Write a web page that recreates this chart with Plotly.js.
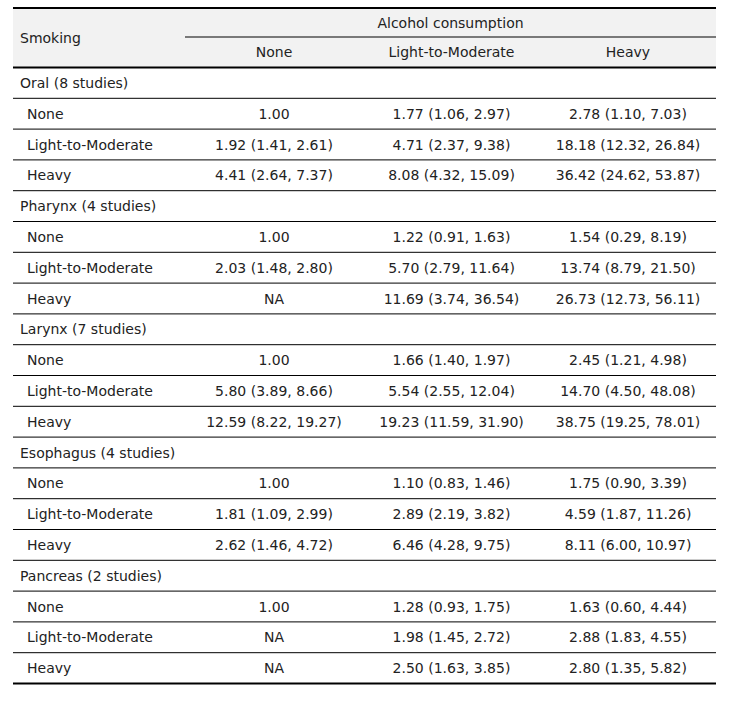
<!DOCTYPE html>
<html>
<head>
<meta charset="utf-8">
<script src="https://cdn.plot.ly/plotly-3.0.1.min.js"></script>
<style>html,body{margin:0;padding:0;background:#fff;}#chart{width:733px;height:703px;}</style>
</head>
<body>
<div id="chart"></div>
<script>
// ---- data ----
const spanHeader = 'Alcohol consumption';
const rowHeader = 'Smoking';
const alcoholLevels = ['None', 'Light-to-Moderate', 'Heavy'];
const smokingLevels = ['None', 'Light-to-Moderate', 'Heavy'];
const cancerSites = ['Oral (8 studies)', 'Pharynx (4 studies)', 'Larynx (7 studies)', 'Esophagus (4 studies)', 'Pancreas (2 studies)'];

// odds ratios [smoking][alcohol]; null = NA
const oralOR = [[1.00, 1.77, 2.78], [1.92, 4.71, 18.18], [4.41, 8.08, 36.42]];
const oralLow = [[null, 1.06, 1.10], [1.41, 2.37, 12.32], [2.64, 4.32, 24.62]];
const oralHigh = [[null, 2.97, 7.03], [2.61, 9.38, 26.84], [7.37, 15.09, 53.87]];

const pharynxOR = [[1.00, 1.22, 1.54], [2.03, 5.70, 13.74], [null, 11.69, 26.73]];
const pharynxLow = [[null, 0.91, 0.29], [1.48, 2.79, 8.79], [null, 3.74, 12.73]];
const pharynxHigh = [[null, 1.63, 8.19], [2.80, 11.64, 21.50], [null, 36.54, 56.11]];

const larynxOR = [[1.00, 1.66, 2.45], [5.80, 5.54, 14.70], [12.59, 19.23, 38.75]];
const larynxLow = [[null, 1.40, 1.21], [3.89, 2.55, 4.50], [8.22, 11.59, 19.25]];
const larynxHigh = [[null, 1.97, 4.98], [8.66, 12.04, 48.08], [19.27, 31.90, 78.01]];

const esophagusOR = [[1.00, 1.10, 1.75], [1.81, 2.89, 4.59], [2.62, 6.46, 8.11]];
const esophagusLow = [[null, 0.83, 0.90], [1.09, 2.19, 1.87], [1.46, 4.28, 6.00]];
const esophagusHigh = [[null, 1.46, 3.39], [2.99, 3.82, 11.26], [4.72, 9.75, 10.97]];

const pancreasOR = [[1.00, 1.28, 1.63], [null, 1.98, 2.88], [null, 2.50, 2.80]];
const pancreasLow = [[null, 0.93, 0.60], [null, 1.45, 1.83], [null, 1.63, 1.35]];
const pancreasHigh = [[null, 1.75, 4.44], [null, 2.72, 4.55], [null, 3.85, 5.82]];

// ---- build ----
const siteData = [
  [oralOR, oralLow, oralHigh],
  [pharynxOR, pharynxLow, pharynxHigh],
  [larynxOR, larynxLow, larynxHigh],
  [esophagusOR, esophagusLow, esophagusHigh],
  [pancreasOR, pancreasLow, pancreasHigh]
];

const W = 733, H = 703;
const L = 13, R = 716;
const colEdges = [L, 185, 363, 540, R];
const headTop = 8, headMid = 37, headBot = 67.5;
const rowH = 30.8;
const txtColor = '#222';
const fontFam = '"DejaVu Sans", sans-serif';
const fs = 14;
const dy = 1.5;

function fmt(v) { return v.toFixed(2); }
function cellText(or, lo, hi) {
  if (or === null) return 'NA';
  if (lo === null) return fmt(or);
  return fmt(or) + ' (' + fmt(lo) + ', ' + fmt(hi) + ')';
}

const leftX = [], leftY = [], leftT = [];
const subX = [], subY = [], subT = [];
const cX = [], cY = [], cT = [];
const shapes = [];

// header background
shapes.push({type: 'rect', xref: 'x', yref: 'y', x0: L, x1: R, y0: headTop, y1: headBot, fillcolor: '#f2f2f2', line: {width: 0}, layer: 'below'});
// header text
leftX.push(L + 7); leftY.push((headTop + headBot) / 2 + dy); leftT.push(rowHeader);
cX.push((colEdges[1] + colEdges[4]) / 2); cY.push((headTop + headMid) / 2 + dy); cT.push(spanHeader);
alcoholLevels.forEach((a, j) => { cX.push((colEdges[j + 1] + colEdges[j + 2]) / 2); cY.push((headMid + headBot) / 2 + dy); cT.push(a); });

let r = 0;
cancerSites.forEach((site, s) => {
  const yc = headBot + rowH * (r + 0.5) + dy;
  leftX.push(L + 7); leftY.push(yc); leftT.push(site);
  r++;
  smokingLevels.forEach((sm, i) => {
    const y = headBot + rowH * (r + 0.5) + dy;
    subX.push(L + 14); subY.push(y); subT.push(sm);
    for (let j = 0; j < 3; j++) {
      cX.push((colEdges[j + 1] + colEdges[j + 2]) / 2);
      cY.push(y);
      cT.push(cellText(siteData[s][0][i][j], siteData[s][1][i][j], siteData[s][2][i][j]));
    }
    r++;
  });
});
const nRows = r;

// lines
shapes.push({type: 'line', xref: 'x', yref: 'y', x0: L, x1: R, y0: headTop, y1: headTop, line: {color: '#000', width: 2}});
shapes.push({type: 'line', xref: 'x', yref: 'y', x0: colEdges[1], x1: R, y0: headMid, y1: headMid, line: {color: '#000', width: 1}});
shapes.push({type: 'line', xref: 'x', yref: 'y', x0: L, x1: R, y0: headBot, y1: headBot, line: {color: '#000', width: 2}});
for (let k = 1; k < nRows; k++) {
  const y = headBot + rowH * k;
  shapes.push({type: 'line', xref: 'x', yref: 'y', x0: L, x1: R, y0: y, y1: y, line: {color: '#000', width: 1}});
}
const yEnd = headBot + rowH * nRows;
shapes.push({type: 'line', xref: 'x', yref: 'y', x0: L, x1: R, y0: yEnd, y1: yEnd, line: {color: '#000', width: 2}});

const font = {family: fontFam, size: fs, color: txtColor};
const traces = [
  {x: leftX, y: leftY, text: leftT, mode: 'text', type: 'scatter', textposition: 'middle right', textfont: font, hoverinfo: 'skip', cliponaxis: false},
  {x: subX, y: subY, text: subT, mode: 'text', type: 'scatter', textposition: 'middle right', textfont: font, hoverinfo: 'skip', cliponaxis: false},
  {x: cX, y: cY, text: cT, mode: 'text', type: 'scatter', textposition: 'middle center', textfont: font, hoverinfo: 'skip', cliponaxis: false}
];

const layout = {
  width: W, height: H,
  margin: {l: 0, r: 0, t: 0, b: 0},
  paper_bgcolor: '#fff', plot_bgcolor: '#fff',
  showlegend: false,
  xaxis: {range: [0, W], visible: false, fixedrange: true},
  yaxis: {range: [H, 0], visible: false, fixedrange: true},
  shapes: shapes
};
Plotly.newPlot('chart', traces, layout, {staticPlot: true, displayModeBar: false});
</script>
</body>
</html>
